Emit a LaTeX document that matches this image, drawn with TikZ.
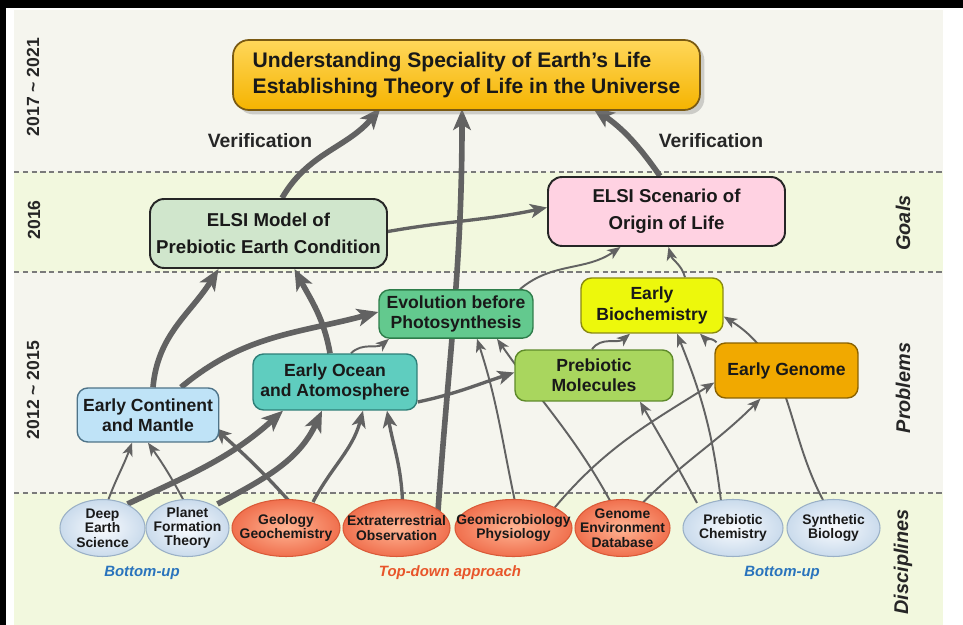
\documentclass[tikz,border=0pt]{standalone}
\usepackage{fontspec}
\setmainfont{Liberation Sans}
\usetikzlibrary{arrows.meta,shapes,positioning,shadows}

\definecolor{bandgrey}{HTML}{F5F5EE}
\definecolor{bandgreen}{HTML}{F2F8DE}
\definecolor{sepgrey}{HTML}{7A7A7A}
\definecolor{linkgrey}{HTML}{626262}
\definecolor{topA}{HTML}{FFD75A}
\definecolor{topB}{HTML}{F5B400}
\definecolor{topedge}{HTML}{7A5A12}
\definecolor{modelfill}{HTML}{D0E6CC}
\definecolor{scenfill}{HTML}{FFD2E2}
\definecolor{evolfill}{HTML}{63C98E}
\definecolor{evoledge}{HTML}{2E7D4A}
\definecolor{biofill}{HTML}{EDF80C}
\definecolor{bioedge}{HTML}{8A8A10}
\definecolor{oceanfill}{HTML}{5FCDBF}
\definecolor{oceanedge}{HTML}{2E7F78}
\definecolor{premolfill}{HTML}{A9D65E}
\definecolor{premoledge}{HTML}{5E8A2A}
\definecolor{genomefill}{HTML}{F1A900}
\definecolor{genomeedge}{HTML}{8A6200}
\definecolor{contfill}{HTML}{BFE3F7}
\definecolor{contedge}{HTML}{4E7388}
\definecolor{lightin}{HTML}{F9FBFE}
\definecolor{lightout}{HTML}{CADBEC}
\definecolor{lightrim}{HTML}{9AB0C6}
\definecolor{salmonin}{HTML}{FFB594}
\definecolor{salmonout}{HTML}{F0704E}
\definecolor{salmonrim}{HTML}{D95A38}
\definecolor{upblue}{HTML}{2A74BD}
\definecolor{downred}{HTML}{E8552A}

\pgfdeclarelayer{bands}
\pgfdeclarelayer{links}
\pgfsetlayers{bands,links,main}

\begin{document}
\begin{tikzpicture}[x=0.02cm, y=0.02cm,
    link/.style={draw=linkgrey},
    thicklink/.style={link, line width=3.2pt, -{Stealth[length=12pt, width=10pt, inset=3pt]}},
    midlink/.style={link, line width=1.9pt, -{Stealth[length=9.5pt, width=8pt, inset=2.5pt]}},
    thinlink/.style={link, line width=1.1pt, -{Stealth[length=7.5pt, width=6pt, inset=2pt]}},
    sep/.style={draw=sepgrey, line width=0.6pt, dash pattern=on 3pt off 2pt},
    goalbox/.style={draw=black!85, line width=1.1pt, rounded corners=8pt, align=center,
        minimum width=4.74cm, minimum height=1.38cm,
        font=\bfseries\fontsize{10.6}{15.4}\selectfont, text=black!90},
    probbox/.style={rounded corners=6pt, line width=0.8pt, align=center,
        font=\bfseries\fontsize{10}{11.5}\selectfont, text=black!90},
    disc/.style={ellipse, minimum height=1.14cm, inner sep=0pt, line width=0.6pt},
    lightdisc/.style={disc, draw=lightrim, inner color=lightin, outer color=lightout},
    salmondisc/.style={disc, draw=salmonrim, inner color=salmonin, outer color=salmonout},
    disctext/.style={align=center, inner sep=0pt, font=\bfseries\fontsize{7.9}{8.2}\selectfont, text=black!90},
    yearlabel/.style={rotate=90, font=\bfseries\fontsize{10}{12}\selectfont, text=black!85},
    rowlabel/.style={rotate=90, font=\bfseries\itshape\fontsize{11.3}{13}\selectfont, text=black!85},
    approach/.style={font=\bfseries\itshape\fontsize{8.5}{10}\selectfont},
    verif/.style={font=\bfseries\fontsize{11}{13}\selectfont, text=black!85}]

    \useasboundingbox (0,0) rectangle (963,625);

    \begin{pgfonlayer}{bands}
    % frame
    \fill[black] (0,617) rectangle (963,625);
    \fill[black] (0,0) rectangle (6,625);
    % four bands
    \fill[bandgrey] (14,453) rectangle (943,615);
    \fill[bandgreen] (14,353) rectangle (943,453);
    \fill[bandgrey] (14,132) rectangle (943,353);
    \fill[bandgreen] (14,0) rectangle (943,132);
    \draw[sep] (14,453) -- (943,453);
    \draw[sep] (14,353) -- (943,353);
    \draw[sep] (14,132) -- (943,132);
    \end{pgfonlayer}

    % years on the left
    \node[yearlabel] (yearA) at (33,538) {2017 \textasciitilde{} 2021};
    \node[yearlabel] (yearB) at (34,405) {2016};
    \node[yearlabel] (yearC) at (33,235) {2012 \textasciitilde{} 2015};
    % rows on the right
    \node[rowlabel] (goals) at (903,402) {Goals};
    \node[rowlabel] (problems) at (903,237) {Problems};
    \node[rowlabel] (disciplines) at (903,63) {Disciplines};

    % top goal
    \node[draw=topedge, line width=1pt, rounded corners=9pt, top color=topA, bottom color=topB,
        drop shadow={shadow xshift=2.5pt, shadow yshift=-2.5pt, opacity=0.35},
        minimum width=9.34cm, minimum height=1.4cm, align=left,
        font=\bfseries\fontsize{12}{14.8}\selectfont, text=black!90] (top) at (466.5,550)
        {Understanding Speciality of Earth's Life\\Establishing Theory of Life in the Universe};
    \node[verif] (verifL) at (260,484) {Verification};
    \node[verif] (verifR) at (711,484) {Verification};

    % goals 2016
    \node[goalbox, fill=modelfill] (model) at (268.5,391.5) {ELSI Model of\\Prebiotic Earth Condition};
    \node[goalbox, fill=scenfill] (scenario) at (666.5,413.5) {ELSI Scenario of\\Origin of Life};

    % problems
    \node[probbox, fill=evolfill, draw=evoledge, minimum width=3.08cm, minimum height=0.96cm] (evol) at (456,311) {Evolution before\\Photosynthesis};
    \node[probbox, fill=biofill, draw=bioedge, minimum width=2.84cm, minimum height=1.1cm] (biochem) at (652,319.5) {Early\\Biochemistry};
    \node[probbox, fill=oceanfill, draw=oceanedge, minimum width=3.28cm, minimum height=1.12cm] (ocean) at (335,243) {Early Ocean\\and Atomosphere};
    \node[probbox, fill=premolfill, draw=premoledge, minimum width=3.16cm, minimum height=1.02cm] (premol) at (594,249.5) {Prebiotic\\Molecules};
    \node[probbox, fill=genomefill, draw=genomeedge, minimum width=2.86cm, minimum height=1.1cm] (genome) at (786.5,254.5) {Early Genome};
    \node[probbox, fill=contfill, draw=contedge, minimum width=2.8cm, minimum height=1.08cm] (cont) at (148,210) {Early Continent\\and Mantle};

    % disciplines
    \node[lightdisc, minimum width=1.70cm] (deep) at (102.5,97) {};
    \node[disctext] (deep-t) at (deep) {Deep\\Earth\\Science};
    \node[lightdisc, minimum width=1.66cm] (planet) at (187.5,97) {};
    \node[disctext] (planet-t) at (planet) {Planet\\Formation\\Theory};
    \node[salmondisc, minimum width=2.16cm] (geology) at (286,97) {};
    \node[disctext] (geology-t) at (geology) {Geology\\Geochemistry};
    \node[salmondisc, minimum width=2.14cm] (extra) at (396.5,97) {};
    \node[disctext] (extra-t) at (extra) {Extraterrestrial\\Observation};
    \node[salmondisc, minimum width=2.34cm] (geomicro) at (513.5,97) {};
    \node[disctext] (geomicro-t) at (geomicro) {Geomicrobiology\\Physiology};
    \node[salmondisc, minimum width=1.90cm] (genomedb) at (622.5,97) {};
    \node[disctext] (genomedb-t) at (genomedb) {Genome\\Environment\\Database};
    \node[lightdisc, minimum width=2.00cm] (prechem) at (733,97) {};
    \node[disctext] (prechem-t) at (prechem) {Prebiotic\\Chemistry};
    \node[lightdisc, minimum width=1.86cm] (synbio) at (833.5,97) {};
    \node[disctext] (synbio-t) at (synbio) {Synthetic\\Biology};

    \node[approach, text=upblue] (upL) at (142,52) {Bottom-up};
    \node[approach, text=downred] (down) at (450,52) {Top-down approach};
    \node[approach, text=upblue] (upR) at (782,52) {Bottom-up};

    \begin{pgfonlayer}{links}
    % verification
    \draw[thicklink] ([shift={(13.5,0)}]model.north) to[out=60,in=-130] ([shift={(-86,3)}]top.south);
    \draw[thicklink] ([shift={(-6.5,0)}]scenario.north) to[out=125,in=-35] ([shift={(126.5,3)}]top.south);
    \draw[thicklink] ([shift={(41.5,-12)}]extra.north) to[out=86,in=-90] ([shift={(-4.5,2)}]top.south);
    % into the goals
    \draw[midlink] ([shift={(0,2)}]model.east) to[out=10,in=192] ([shift={(0,4)}]scenario.west);
    \draw[thinlink] ([shift={(64,0)}]evol.north) to[out=40,in=-145] ([shift={(-46,0)}]scenario.south);
    \draw[thinlink] ([shift={(33,0)}]biochem.north) to[out=105,in=-75] ([shift={(2,0)}]scenario.south);
    \draw[thicklink] ([shift={(5,0)}]cont.north) to[out=85,in=-122] ([shift={(-50,0)}]model.south);
    \draw[thicklink] ([shift={(-5,0)}]ocean.north) to[out=100,in=-62] ([shift={(26,0)}]model.south);
    % between the problems
    \draw[thicklink] ([shift={(33,0)}]cont.north) to[out=40,in=195] ([shift={(0,2)}]evol.west);
    \draw[thinlink] ([shift={(16,0)}]ocean.north) to[out=45,in=-140] ([shift={(-67,0)}]evol.south);
    \draw[midlink] ([shift={(0,-20)}]ocean.east) to[out=12,in=198] ([shift={(0,3)}]premol.west);
    \draw[thinlink] ([shift={(-2,0)}]premol.north) to[out=55,in=-140] ([shift={(-22,0)}]biochem.south);
    \draw[thinlink] ([shift={(-70,0)}]genome.north) to[out=135,in=-45] ([shift={(48,0)}]biochem.south);
    % from the disciplines
    \draw[thinlink] ([shift={(5,-3)}]deep.north) to[out=70,in=-110] ([shift={(-16,0)}]cont.south);
    \draw[thinlink] ([shift={(-3,-3)}]planet.north) to[out=118,in=-55] (cont.south);
    \draw[midlink] ([shift={(4,-3)}]geology.north) to[out=132,in=-42] ([shift={(-5,15)}]cont.south east);
    \draw[thicklink] ([shift={(25,-5)}]deep.north) to[out=25,in=-138] ([shift={(-52,0)}]ocean.south);
    \draw[thicklink] ([shift={(30,-5)}]planet.north) to[out=28,in=-115] ([shift={(-13,0)}]ocean.south);
    \draw[midlink] ([shift={(27,-3)}]geology.north) to[out=62,in=-105] ([shift={(28,0)}]ocean.south);
    \draw[midlink] ([shift={(6,-3)}]extra.north) to[out=92,in=-80] ([shift={(52,0)}]ocean.south);
    \draw[thinlink] ([shift={(2,-5)}]geomicro.north) to[out=102,in=-72] ([shift={(21,0)}]evol.south);
    \draw[thinlink] ([shift={(40,-10)}]geomicro.north) to[out=50,in=-148] ([shift={(0,-12)}]genome.west);
    \draw[thinlink] ([shift={(-8,-10)}]genomedb.north) to[out=118,in=-55] ([shift={(41,0)}]evol.south);
    \draw[thinlink] ([shift={(20,-4)}]genomedb.north) to[out=45,in=-135] ([shift={(-26,0)}]genome.south);
    \draw[thinlink] ([shift={(-36,-4)}]prechem.north) to[out=118,in=-60] ([shift={(46,0)}]premol.south);
    \draw[thinlink] ([shift={(-12,-2)}]prechem.north) to[out=97,in=-68] ([shift={(25,0)}]biochem.south);
    \draw[thinlink] ([shift={(-10,-2)}]synbio.north) to[out=118,in=-32] ([shift={(0,-11)}]biochem.east);
    \end{pgfonlayer}
\end{tikzpicture}
\end{document}
